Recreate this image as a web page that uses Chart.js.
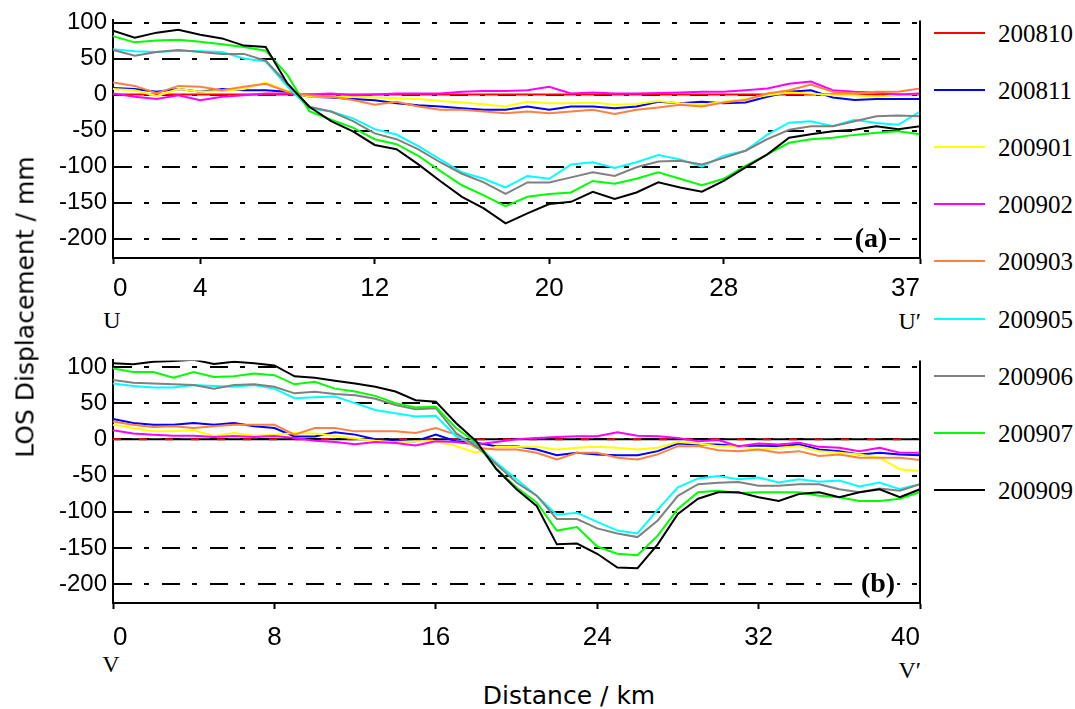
<!DOCTYPE html>
<html lang="en">
<head>
    <meta charset="UTF-8">
    <title>LOS Displacement profiles</title>
    <script src="https://cdn.jsdelivr.net/npm/chart.js"></script>
    <style>
        body {
            margin: 0;
            background: #fff;
            width: 1075px;
            height: 709px;
            position: relative;
            overflow: hidden;
            font-family: "DejaVu Sans", sans-serif;
        }
        canvas { position: absolute; left: 0; }
        #chartA { top: 0; }
        #chartB { top: 340px; }
        .end {
            position: absolute;
            font-family: "Liberation Serif", serif;
            font-size: 24px;
            line-height: 1;
            transform: translate(-50%, -50%);
        }
        .end.right { transform: translate(-100%, -50%); }
        #ytitle {
            position: absolute;
            left: 25px;
            top: 307px;
            transform: translate(-50%, -50%) rotate(-90deg);
            font-size: 25px;
            white-space: nowrap;
        }
        #xtitle {
            position: absolute;
            left: 569px;
            top: 695px;
            transform: translate(-50%, -50%);
            font-size: 25px;
            white-space: nowrap;
        }
        .leg-line { position: absolute; left: 934px; width: 51px; height: 2px; }
        .leg-text {
            position: absolute;
            left: 998px;
            font-family: "Liberation Serif", serif;
            font-size: 25px;
            line-height: 1;
            transform: translateY(-50%);
        }
    </style>
</head>
<body>
    <canvas id="chartA" width="925" height="300"></canvas>
    <canvas id="chartB" width="925" height="305"></canvas>
    <div class="end" style="left:112px;top:320px">U</div>
    <div class="end right" style="left:921px;top:321px">U′</div>
    <div class="end" style="left:111px;top:664px">V</div>
    <div class="end right" style="left:921px;top:670px">V′</div>
    <div id="ytitle">LOS Displacement / mm</div>
    <div id="xtitle">Distance / km</div>
    <div id="legend"></div>
    <script>
        const seriesNames = ['200810', '200811', '200901', '200902', '200903', '200905', '200906', '200907', '200909'];
        const seriesColors = ['#ff0000', '#0000ff', '#ffff00', '#ff00ff', '#ff8040', '#00ffff', '#808080', '#00ff00', '#000000'];
        const yTicks = [-200, -150, -100, -50, 0, 50, 100];
        const xTicksA = [0, 4, 12, 20, 28, 37];
        const xTicksB = [0, 8, 16, 24, 32, 40];

        // profile U-U' (a), one value per km
        const distA = [0,1,2,3,4,5,6,7,8,9,10,11,12,13,14,15,16,17,18,19,20,21,22,23,24,25,26,27,28,29,30,31,32,33,34,35,36,37];
        const redA = [0,0,0,0,0,0,0,0,0,0, 0,0,0,0,0,0,0,0,0,0, 0,0,0,0,0,0,0,0,0,0, 0,0,0,0,0,0,0,0];
        const blueA = [9,7.6,4,7.6,4,7.6,6,6,4,-3, -4,-6,-8,-12,-15,-16.6,-19,-21,-21,-16.6, -21,-16.6,-16.6,-19,-16.6,-10,-12,-10,-12,-11, -3,4,6,-4,-7.5,-6,-6,-6];
        const yellowA = [7.6,6,-2,7.6,4,5,7.6,16.7,5,-3, -3,-3,-4,-5,-6,-9,-11,-13.5,-16.6,-10, -12,-12,-11,-14,-13,-9,-12,-14,-10,-6, -1,3,1.4,-1,-1,-3,-1,1.4];
        const magentaA = [1.4,-3,-6,-1,-8,-3,-1,1.4,1.4,0, 1.4,-1,0,1.4,1.4,1.4,4,5,5,6, 10.8,1.4,3,1.4,1.4,2,3,4,4,6, 8.5,15,18,6,4,3,0,1.4];
        const orangeA = [16.7,12,2,12,11,6,11,15,4,-1, -3,-7.5,-14,-10,-16.6,-21,-21,-23.5,-26,-23.5, -26,-23.5,-21,-27,-21,-18,-14,-16.6,-11,-7.5, 1.4,6,14,4,1.4,4,4,8.5];
        const cyanA = [63,60,59,61,60,59,50,46,11,-19, -23.5,-33,-48,-55.5,-71.5,-90,-108,-117,-129,-113, -117,-97,-94,-102,-94,-84,-90,-100,-85,-78, -55.5,-39,-37,-44,-35,-39.5,-42,-23.5];
        const grayA = [62,54,59,62,59,56.5,56.5,47,15,-17, -23.5,-37,-54,-62,-76,-94,-110,-122,-138,-122, -122,-115,-108,-113,-101,-93,-92,-97,-88,-78, -62,-49,-44,-44,-37,-30,-29,-30];
        const greenA = [81,72.5,75,76,73.5,70,66,61,27,-23, -35,-46,-62,-69,-85,-106,-126,-140,-155,-142, -138,-136,-120,-124,-117,-108,-117,-126,-117,-99, -83,-67,-62,-60,-56,-53,-51,-55];
        const blackA = [88.6,79,86,90,83,78,68,66,15,-17, -37,-51,-70,-76,-97,-120,-142,-158,-179,-165, -152,-149,-135,-145,-136,-122,-129,-135,-120,-101, -83,-60,-55,-51,-49,-44,-48,-44];

        // profile V-V' (b), one value per km
        const distB = [0,1,2,3,4,5,6,7,8,9,10,11,12,13,14,15,16,17,18,19,20,21,22,23,24,25,26,27,28,29,30,31,32,33,34,35,36,37,38,39,40];
        const redB = [0,0,0,0,0,0,0,0,0,0, 0,0,0,0,0,0,0,0,0,0, 0,0,0,0,0,0,0,0,0,0, 0,0,0,0,0,0,0,0,0,0, 0];
        const blueB = [28,22.5,20,20,22.5,20,22.5,18,15.6,4, 4,9.7,6.5,0,-2.6,-2.6,6.5,-2.6,-4.7,-9.4, -9.4,-14,-22,-18.5,-20.8,-22,-22,-16.3,-5.8,-7, -7,-9.4,-8.5,-9.4,-7,-14,-16.3,-20.8,-18.5,-20.8, -22];
        const yellowB = [20,15.6,11,11,12.4,4.5,8.8,5,6.5,8.8, 8,4.5,1,-2,-4,-2.6,-2.6,-9.4,-18.5,-10.4, -10.4,-10.4,-14,-11.7,-10.4,-11.7,-14,-11.7,-3.6,-5.8, -9.4,-9.4,-14,-11.7,-9.4,-16.3,-18.5,-20.8,-25.4,-41.4, -43.6];
        const magentaB = [12.5,8,6.5,5,5,3.3,4.5,3.3,4.5,2, -2,-3.6,-6.8,-3.6,-5,-8.5,-2.6,-3.6,-7,-3.6, 0,2,3.3,4.2,4.2,9.7,5,4.2,2,-2.6, -1,-9.4,-5.8,-7,-4.7,-10.4,-11.7,-16.3,-11.7,-18.5, -18.5];
        const orangeB = [24.8,20,17,18,15.6,18,20,20,20,6.5, 15.6,15.6,11,11,11,8.8,15.6,6.5,-11.7,-14, -14,-18.5,-27.7,-18.5,-18.5,-25.4,-27.7,-20.8,-9.4,-9.4, -15,-16.3,-14,-18.5,-16.3,-23,-20.8,-25.4,-25.4,-25.4, -28.6];
        const cyanB = [77,73.5,71.7,71.7,75,73.5,72.6,75,70,56.7, 58,59,50,40.5,36,31.6,32.5,4.2,-7,-32, -55,-77.8,-104,-101.5,-114,-126,-130,-97,-66.4,-54, -50.5,-55,-52.8,-59.6,-55,-58.7,-57,-65,-59.6,-68.7, -62];
        const grayB = [81.8,78,77,76,75,70,75,76,72.6,63.5, 65.8,62.6,61,56,47.5,41.6,43,8.8,-9.4,-34.5, -59.6,-77.8,-110,-110,-123,-130,-135,-112,-78,-62, -60,-59,-64,-64,-62,-62,-69,-73,-68,-71, -62];
        const greenB = [97.7,93,93,85,93,86,87,91,88.6,76, 79.5,70,66,60,50,44,45,15.6,-4.7,-41, -66.5,-87,-126,-121,-148,-158,-160,-133,-96,-73, -71,-74,-73,-73,-73,-78,-80,-85,-85,-82, -73];
        const blackB = [105,103.6,107,108,110,104,107,105,102,87, 85,81,77,72.6,66,54,52,22.5,-2.6,-41, -69,-92,-145,-144,-158,-177,-178,-145,-103,-82, -73,-73,-80,-85,-75.5,-73,-80,-73,-69,-80, -69];

        const valuesA = [redA, blueA, yellowA, magentaA, orangeA, cyanA, grayA, greenA, blackA];
        const valuesB = [redB, blueB, yellowB, magentaB, orangeB, cyanB, grayB, greenB, blackB];

        // legend on the right, shared by both panels
        const legend = document.getElementById('legend');
        seriesNames.forEach((name, i) => {
            const y = 33 + i * 57.1;
            const line = document.createElement('div');
            line.className = 'leg-line';
            line.style.top = (y - 1) + 'px';
            line.style.background = seriesColors[i];
            const txt = document.createElement('div');
            txt.className = 'leg-text';
            txt.style.top = y + 'px';
            txt.textContent = name;
            legend.appendChild(line);
            legend.appendChild(txt);
        });

        // frame on the right, solid zero line and the (a)/(b) tag
        const panelDecor = {
            id: 'panelDecor',
            beforeDatasetsDraw(chart, args, opts) {
                if (!opts.zeroLine) return;
                const ctx = chart.ctx, a = chart.chartArea;
                const y0 = chart.scales.y.getPixelForValue(0);
                ctx.save();
                ctx.strokeStyle = '#000';
                ctx.lineWidth = 2;
                ctx.beginPath();
                ctx.moveTo(a.left, y0);
                ctx.lineTo(a.right, y0);
                ctx.stroke();
                ctx.restore();
            },
            afterDraw(chart, args, opts) {
                const ctx = chart.ctx, a = chart.chartArea;
                ctx.save();
                ctx.strokeStyle = '#000';
                ctx.lineWidth = 2;
                ctx.beginPath();
                ctx.moveTo(a.right, a.top);
                ctx.lineTo(a.right, a.bottom + 1);
                ctx.stroke();
                ctx.font = 'bold 28px "Liberation Serif", serif';
                const w = ctx.measureText(opts.text).width;
                ctx.fillStyle = '#fff';
                ctx.fillRect(opts.x - w / 2 - 2, opts.y - 14, w + 4, 28);
                ctx.fillStyle = '#000';
                ctx.textAlign = 'center';
                ctx.textBaseline = 'middle';
                ctx.fillText(opts.text, opts.x, opts.y);
                ctx.restore();
            }
        };

        function makeChart(id, dist, values, xTicks, xMax, yMin, yMax, tickPad, decor) {
            const datasets = values.map((vals, i) => ({
                label: seriesNames[i],
                data: dist.map((d, j) => ({ x: d, y: vals[j] })),
                borderColor: seriesColors[i],
                borderWidth: 2,
                borderDash: (decor.zeroLine && i === 0) ? [8, 18] : [],
                pointRadius: 0,
                tension: 0,
                fill: false,
                order: seriesNames.length - 1 - i
            }));
            return new Chart(document.getElementById(id), {
                type: 'line',
                data: { datasets: datasets },
                plugins: [panelDecor],
                options: {
                    responsive: false,
                    animation: false,
                    layout: { padding: { top: 18, right: 5, left: 0, bottom: 0 } },
                    plugins: {
                        legend: { display: false },
                        tooltip: { enabled: false },
                        panelDecor: decor
                    },
                    scales: {
                        x: {
                            type: 'linear',
                            min: 0,
                            max: xMax,
                            afterBuildTicks: s => { s.ticks = xTicks.map(v => ({ value: v })); },
                            afterFit: s => {
                                s.height = 42;
                                s.paddingLeft = 0;
                                s.paddingRight = 0;
                            },
                            grid: {
                                drawOnChartArea: false,
                                drawTicks: true,
                                tickLength: 6,
                                tickColor: '#000',
                                tickWidth: 2
                            },
                            border: { display: true, color: '#000', width: 2 },
                            ticks: {
                                align: 'inner',
                                maxRotation: 0,
                                padding: tickPad,
                                color: '#000',
                                font: { family: '"Liberation Sans", Arial, sans-serif', size: 26 }
                            }
                        },
                        y: {
                            min: yMin,
                            max: yMax,
                            afterBuildTicks: s => { s.ticks = yTicks.map(v => ({ value: v })); },
                            afterFit: s => { s.width = 113; },
                            grid: {
                                color: '#000',
                                lineWidth: 2,
                                drawTicks: false
                            },
                            border: { display: true, color: '#000', width: 2, dash: [18, 12, 5, 13] },
                            ticks: {
                                padding: 6,
                                color: '#000',
                                font: { family: '"Liberation Sans", Arial, sans-serif', size: 24 }
                            }
                        }
                    }
                }
            });
        }

        makeChart('chartA', distA, valuesA, xTicksA, 37, -227, 103, 9, { text: '(a)', x: 871, y: 240, zeroLine: false });
        makeChart('chartB', distB, valuesB, xTicksB, 40, -226, 109, 13, { text: '(b)', x: 878, y: 245, zeroLine: true });
    </script>
</body>
</html>
